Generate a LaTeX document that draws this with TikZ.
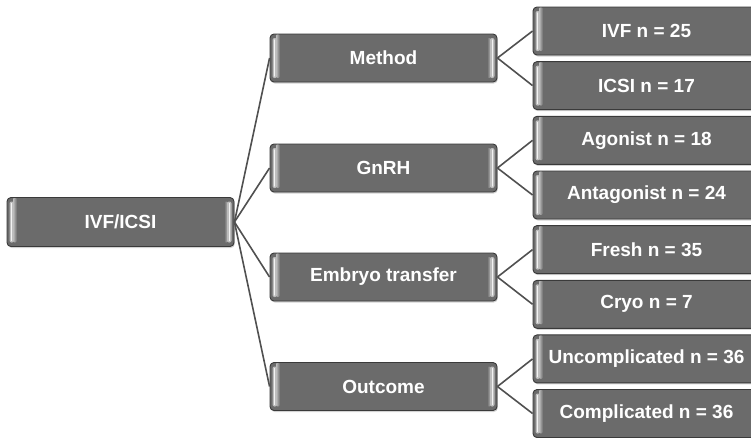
\documentclass[tikz,border=0pt]{standalone}
\usepackage{fontspec}
\setmainfont{Liberation Sans}
\usetikzlibrary{shadows}

\definecolor{boxfill}{HTML}{6B6B6B}
\definecolor{boxedge}{HTML}{3A3A3A}
\definecolor{linkcol}{HTML}{505050}
\definecolor{bevellight}{HTML}{F2F2F2}
\definecolor{bevelmid}{HTML}{BDBDBD}

\tikzset{
  box/.style={
    rounded corners=4pt, fill=boxfill, draw=boxedge, line width=0.9pt,
    minimum width=227pt, minimum height=48pt, inner sep=0pt,
    text=white, font=\fontsize{19}{22}\selectfont\bfseries,
    drop shadow={shadow xshift=0.8pt, shadow yshift=-1.5pt, opacity=0.35},
    path picture={
      % raised bevel strips at both short ends
      \begin{scope}[x=1pt, y=1pt, rounded corners=2pt]
        \coordinate (bvSW) at (path picture bounding box.south west);
        \coordinate (bvNE) at (path picture bounding box.north east);
        \shade[left color=bevelmid, right color=boxfill]
          ([xshift=6pt,yshift=4pt]bvSW) rectangle ([xshift=10pt]bvSW |- bvNE) ;
        \fill[bevelmid] ([xshift=2.5pt,yshift=4pt]bvSW) rectangle ([xshift=7pt,yshift=-4pt]bvSW |- bvNE);
        \shade[left color=boxfill, right color=bevelmid]
          ([xshift=-10pt,yshift=4pt]bvNE |- bvSW) rectangle ([xshift=-6pt,yshift=-4pt]bvNE);
        \fill[bevelmid] ([xshift=-7pt,yshift=4pt]bvNE |- bvSW) rectangle ([xshift=-2.5pt,yshift=-4pt]bvNE);
        \draw[bevellight, line width=1.1pt, line cap=round]
          ([xshift=4.3pt,yshift=6pt]bvSW) -- ([xshift=4.3pt,yshift=-6pt]bvSW |- bvNE);
        \draw[bevellight, line width=1.1pt, line cap=round]
          ([xshift=-4.3pt,yshift=6pt]bvNE |- bvSW) -- ([xshift=-4.3pt,yshift=-6pt]bvNE);
      \end{scope}
    }
  },
  link/.style={draw=linkcol, line width=1.6pt}
}

\begin{document}
\begin{tikzpicture}[x=1pt, y=-1pt]
  \useasboundingbox (0,0) rectangle (751,437);
  \clip (0,0) rectangle (751,437);

  % root
  \node[box, minimum height=49pt] (root) at (120.5,222) {IVF/ICSI};

  % first level
  \node[box] (method) at (383.5,58) {Method};
  \node[box] (gnrh) at (383.5,168) {GnRH};
  \node[box] (embryo) at (383.5,277) {Embryo transfer};
  \node[box] (outcome) at (383.5,386.5) {Outcome};

  % second level
  \node[box] (ivf) at (646.5,31) {IVF n = 25};
  \node[box] (icsi) at (646.5,85.6) {ICSI n = 17};
  \node[box] (agon) at (646.5,140.3) {Agonist n = 18};
  \node[box] (antag) at (646.5,195) {Antagonist n = 24};
  \node[box] (fresh) at (646.5,249.6) {Fresh n = 35};
  \node[box] (cryo) at (646.5,304.3) {Cryo n = 7};
  \node[box] (uncomp) at (646.5,358.9) {Uncomplicated n = 36};
  \node[box] (comp) at (646.5,413.5) {Complicated n = 36};

  % connectors
  \foreach \a/\b in {root/method, root/gnrh, root/embryo, root/outcome,
                     method/ivf, method/icsi, gnrh/agon, gnrh/antag,
                     embryo/fresh, embryo/cryo, outcome/uncomp, outcome/comp}
    \draw[link] (\a.east) -- (\b.west);
\end{tikzpicture}
\end{document}
